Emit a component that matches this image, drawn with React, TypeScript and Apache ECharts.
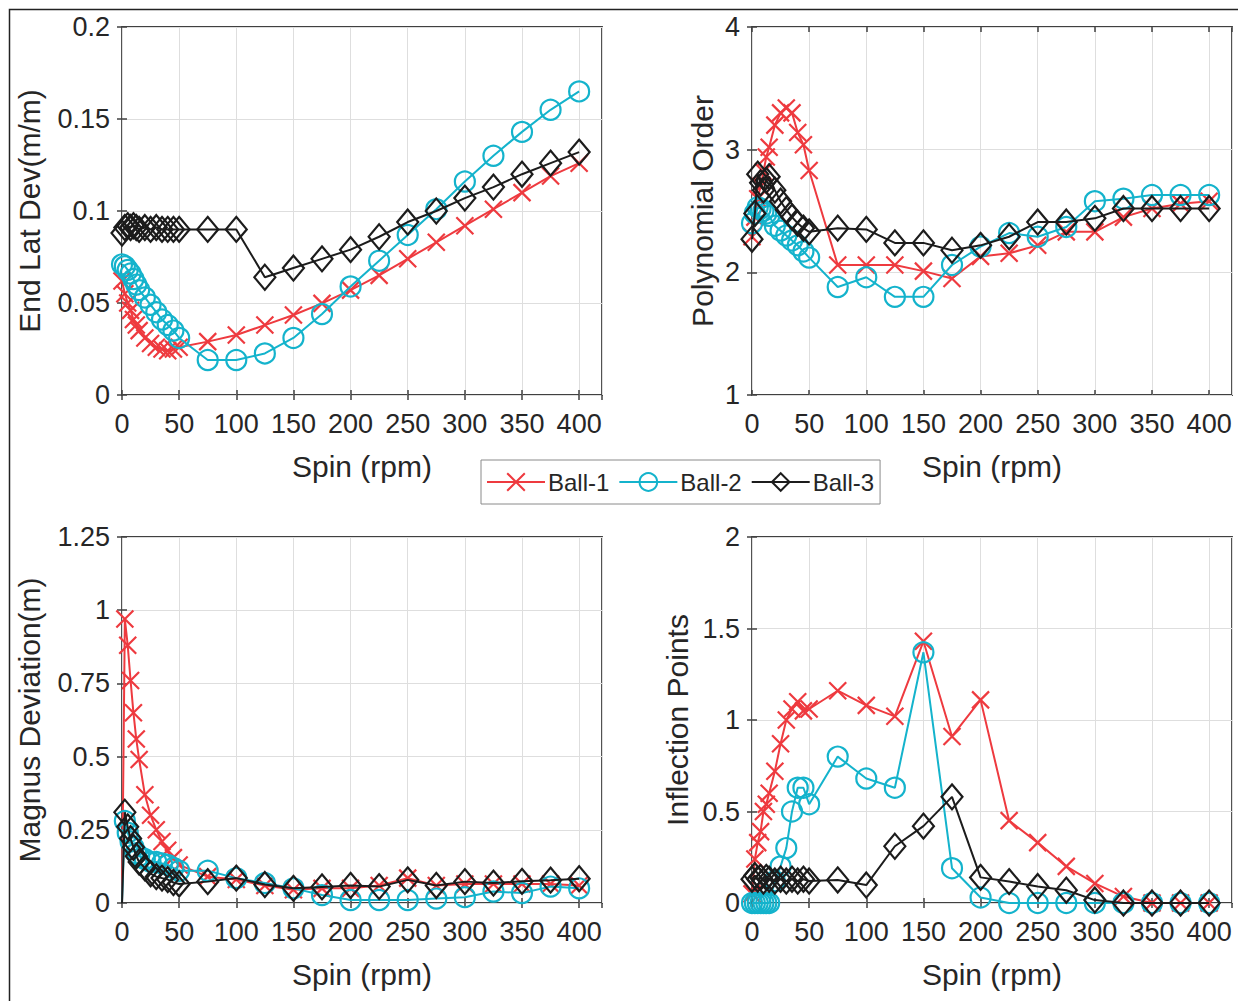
import React, { useEffect, useRef } from "react";
import * as echarts from "echarts";

const spins = [0, 2.5, 5, 7.5, 10, 12.5, 15, 20, 25, 30, 35, 40, 45, 50, 75, 100, 125, 150, 175, 200, 225, 250, 275, 300, 325, 350, 375, 400];
const xTicks = [0, 50, 100, 150, 200, 250, 300, 350, 400];
const seriesNames = ["Ball-1", "Ball-2", "Ball-3"];

const latDev1 = [0.062, 0.055, 0.05, 0.046, 0.041, 0.038, 0.035, 0.031, 0.028, 0.026, 0.025, 0.024, 0.025, 0.026, 0.029, 0.0326, 0.038, 0.0435, 0.0498, 0.057, 0.065, 0.074, 0.083, 0.092, 0.101, 0.11, 0.119, 0.126];
const latDev2 = [0.071, 0.07, 0.068, 0.066, 0.063, 0.06, 0.057, 0.053, 0.049, 0.045, 0.041, 0.038, 0.035, 0.031, 0.019, 0.019, 0.0226, 0.031, 0.044, 0.059, 0.073, 0.087, 0.101, 0.116, 0.13, 0.143, 0.155, 0.165];
const latDev3 = [0.088, 0.091, 0.092, 0.091, 0.092, 0.091, 0.09, 0.091, 0.09, 0.091, 0.09, 0.09, 0.09, 0.09, 0.09, 0.09, 0.064, 0.069, 0.074, 0.079, 0.086, 0.094, 0.1, 0.107, 0.113, 0.12, 0.126, 0.132];

const poly1 = [2.29, 2.45, 2.6, 2.7, 2.82, 2.94, 3.02, 3.2, 3.3, 3.34, 3.3, 3.14, 3.04, 2.83, 2.06, 2.06, 2.06, 2.01, 1.95, 2.13, 2.155, 2.22, 2.33, 2.33, 2.45, 2.52, 2.56, 2.58];
const poly2 = [2.4, 2.48, 2.53, 2.52, 2.5, 2.48, 2.46, 2.38, 2.34, 2.3, 2.26, 2.22, 2.17, 2.12, 1.88, 1.96, 1.8, 1.8, 2.06, 2.21, 2.32, 2.29, 2.37, 2.58, 2.6, 2.63, 2.63, 2.63];
const poly3 = [2.27, 2.48, 2.8, 2.73, 2.67, 2.75, 2.78, 2.67, 2.58, 2.51, 2.45, 2.4, 2.36, 2.33, 2.36, 2.35, 2.24, 2.24, 2.18, 2.22, 2.29, 2.41, 2.41, 2.44, 2.52, 2.52, 2.52, 2.52];

const magnus1 = [0, 0.97, 0.88, 0.76, 0.65, 0.56, 0.49, 0.37, 0.3, 0.25, 0.21, 0.18, 0.155, 0.13, 0.09, 0.08, 0.06, 0.045, 0.05, 0.05, 0.06, 0.085, 0.06, 0.065, 0.065, 0.065, 0.065, 0.06];
const magnus2 = [0, 0.28, 0.24, 0.21, 0.19, 0.17, 0.16, 0.15, 0.14, 0.14, 0.135, 0.13, 0.12, 0.11, 0.11, 0.085, 0.068, 0.05, 0.027, 0.01, 0.01, 0.01, 0.015, 0.02, 0.039, 0.034, 0.056, 0.05];
const magnus3 = [0, 0.31, 0.26, 0.22, 0.19, 0.16, 0.14, 0.12, 0.1, 0.09, 0.085, 0.08, 0.07, 0.065, 0.073, 0.085, 0.063, 0.05, 0.055, 0.06, 0.056, 0.079, 0.06, 0.073, 0.068, 0.074, 0.078, 0.083];

const infl1 = [0.05, 0.24, 0.33, 0.39, 0.5, 0.54, 0.6, 0.72, 0.87, 1.0, 1.06, 1.1, 1.05, 1.06, 1.16, 1.08, 1.02, 1.43, 0.91, 1.11, 0.45, 0.33, 0.2, 0.107, 0.035, 0, 0, 0];
const infl2 = [0, 0, 0, 0, 0, 0, 0, 0.12, 0.2, 0.3, 0.5, 0.63, 0.63, 0.54, 0.8, 0.68, 0.63, 1.37, 0.19, 0.03, 0, 0, 0, 0, 0, 0, 0, 0];
const infl3 = [0.13, 0.15, 0.13, 0.14, 0.12, 0.14, 0.13, 0.12, 0.13, 0.12, 0.13, 0.12, 0.13, 0.12, 0.126, 0.098, 0.31, 0.42, 0.58, 0.14, 0.117, 0.09, 0.07, 0.016, 0, 0, 0, 0];

const panels = [
  { yName: "End Lat Dev(m/m)", yMin: 0, yMax: 0.2, yInterval: 0.05, data: [latDev1, latDev2, latDev3], nameGap: 78, hideOrigin: false },
  { yName: "Polynomial Order", yMin: 1, yMax: 4, yInterval: 1, data: [poly1, poly2, poly3], nameGap: 35, hideOrigin: false },
  { yName: "Magnus Deviation(m)", yMin: 0, yMax: 1.25, yInterval: 0.25, data: [magnus1, magnus2, magnus3], nameGap: 78, hideOrigin: true },
  { yName: "Inflection Points", yMin: 0, yMax: 2, yInterval: 0.5, data: [infl1, infl2, infl3], nameGap: 60, hideOrigin: false },
];

const gridPos = [
  { left: 122, top: 27, width: 480, height: 368 },
  { left: 752, top: 27, width: 480, height: 368 },
  { left: 122, top: 537, width: 480, height: 366 },
  { left: 752, top: 537, width: 480, height: 366 },
];

const COLORS = ["#EE3A3F", "#14B3CC", "#1c1c1c"];
const SYMBOLS = ["path://M0 0L10 10M10 0L0 10", "circle", "diamond"];
const SYMSIZE: any[] = [17, 20, [21, 25]];
const FONT = "Liberation Sans, Arial, Helvetica, sans-serif";
const TXT = "#262626";
const AXC = "#404040";

export default function App() {
  const ref = useRef<HTMLDivElement>(null);
  useEffect(() => {
    document.body.style.margin = "0";
    const chart = echarts.init(ref.current!, null, { renderer: "svg" });
    const xAxis: any[] = [];
    const yAxis: any[] = [];
    const series: any[] = [];
    const tick = { show: true, inside: true, length: 5, lineStyle: { color: AXC, width: 1.5 } };
    panels.forEach((p, i) => {
      xAxis.push({
        type: "value", gridIndex: i, min: 0, max: 420, interval: 50,
        name: "Spin (rpm)", nameLocation: "middle", nameGap: 56,
        nameTextStyle: { fontFamily: FONT, fontSize: 30, color: TXT },
        axisLine: { show: false },
        axisTick: tick,
        axisLabel: { showMaxLabel: false, fontFamily: FONT, fontSize: 27, color: TXT, margin: 15,
          formatter: (v: number) => (xTicks.indexOf(v) >= 0 ? String(v) : "") },
        splitLine: { show: true, lineStyle: { color: "#dedede", width: 1 } },
      });
      xAxis.push({
        type: "value", gridIndex: i, min: 0, max: 420, interval: 50, position: "top",
        axisLine: { show: false }, axisLabel: { show: false }, splitLine: { show: false },
        axisTick: tick,
      });
      yAxis.push({
        type: "value", gridIndex: i, min: p.yMin, max: p.yMax, interval: p.yInterval,
        name: p.yName, nameLocation: "middle", nameGap: p.nameGap,
        nameTextStyle: { fontFamily: FONT, fontSize: 30, color: TXT },
        axisLine: { show: false },
        axisTick: tick,
        axisLabel: { fontFamily: FONT, fontSize: 27, color: TXT, margin: 12 },
        splitLine: { show: true, lineStyle: { color: "#dedede", width: 1 } },
      });
      yAxis.push({
        type: "value", gridIndex: i, min: p.yMin, max: p.yMax, interval: p.yInterval, position: "right",
        axisLine: { show: false }, axisLabel: { show: false }, splitLine: { show: false },
        axisTick: tick,
      });
      p.data.forEach((vals, k) => {
        series.push({
          type: "line", name: seriesNames[k], xAxisIndex: 2 * i, yAxisIndex: 2 * i,
          data: spins.map((s, j) =>
            p.hideOrigin && s === 0 ? { value: [s, vals[j]], symbol: "none" } : [s, vals[j]]
          ),
          symbol: SYMBOLS[k], symbolSize: SYMSIZE[k], showAllSymbol: true,
          lineStyle: { color: COLORS[k], width: 2 },
          itemStyle: { color: "rgba(255,255,255,0)", borderColor: COLORS[k], borderWidth: 2.2 },
          emphasis: { disabled: true },
          z: 3 + k,
        });
      });
    });
    chart.setOption({
      animation: false,
      backgroundColor: "#ffffff",
      grid: gridPos.map((g) => ({ ...g, show: true, borderColor: AXC, borderWidth: 1.8, backgroundColor: "transparent" })),
      xAxis, yAxis, series,
      legend: {
        data: seriesNames, left: 481, top: 460, orient: "horizontal",
        backgroundColor: "#ffffff", borderColor: "#8a8a8a", borderWidth: 1,
        padding: [10, 6, 10, 5], itemGap: 9, itemWidth: 58, itemHeight: 22,
        textStyle: { fontFamily: FONT, fontSize: 24, color: TXT, padding: [0, 0, 0, -2] },
      },
      graphic: [
        { type: "rect", left: 7, top: 7, shape: { width: 1240, height: 1010 }, style: { fill: "none", stroke: "#222", lineWidth: 1.5 }, silent: true },
      ],
    });
    return () => chart.dispose();
  }, []);
  return <div ref={ref} style={{ width: 1238, height: 1001 }} />;
}
